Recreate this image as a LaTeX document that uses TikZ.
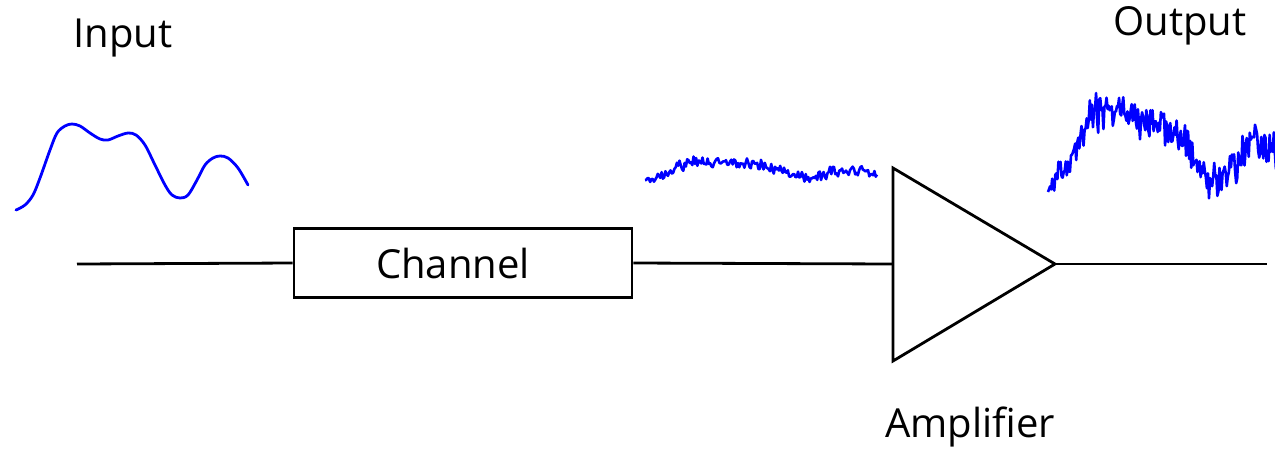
\documentclass[tikz,border=0pt]{standalone}
\usepackage{fontspec}
\setmainfont{Open Sans}
\definecolor{wave}{RGB}{0,0,255}
\begin{document}
\begin{tikzpicture}[x=1pt,y=-1pt,
  wire/.style={line width=2.8pt,black},
  lbl/.style={font=\fontsize{40}{46}\selectfont,inner sep=0pt},
  sig/.style={wave,line width=2.8pt,line join=round,line cap=round},
  noisy/.style={wave,line width=2.6pt,line join=round}]
\useasboundingbox (0,0) rectangle (1275,451);
\pgfmathsetseed{11}
% labels
\node[lbl] (in) at (123,38) {Input};
\node[lbl] (out) at (1180,26) {Output};
\node[lbl] (amplbl) at (970,427) {Amplifier};
% chain
\coordinate (src) at (77,264);
\node[draw,line width=2.8pt,minimum width=338pt,minimum height=69pt,inner sep=0pt,
      font=\fontsize{40}{46}\selectfont] (chan) at (463,263) {Channel\hspace*{20pt}};
\coordinate (ampin) at (893,264);
\coordinate (amptop) at (893,168);
\coordinate (ampbot) at (893,361);
\coordinate (ampout) at (1055,264);
\coordinate (sink) at (1267,264);
\draw[wire] (src) -- (chan.west);
\draw[wire] (chan.east) -- (ampin);
\draw[wire,line join=miter] (amptop) -- (ampout) -- (ampbot) -- cycle;
\draw[wire] (ampout) -- (sink);
% input signal
\draw[sig] plot[smooth,tension=0.55] coordinates {(16,210) (25,205) (33,195) (40,178) (50,150) (57,133) (65,126) (72,124) (80,126) (90,133) (100,139) (108,140) (118,136) (128,133) (136,135) (145,145) (155,165) (165,185) (172,195) (180,198) (188,195) (197,180) (205,165) (213,158) (220,156) (228,158) (238,168) (248,185)};
% noisy channel output
\draw[noisy] (645,180)
  \foreach \xa/\ya/\xb/\yb in {645/180/668/172, 668/172/691/161, 691/161/714/162, 714/162/738/163, 738/163/761/165, 761/165/784/172, 784/172/807/180, 807/180/830/172, 830/172/854/170, 854/170/877/176} {
    \foreach \k in {1,...,18} { -- ({\xa+(\xb-\xa)*\k/18},{\ya+(\yb-\ya)*\k/18+3.6*(rand+rand)}) }
  };
% amplified output
\draw[noisy] (1048,192)
  \foreach \xa/\ya/\xb/\yb in {1048/192/1071/160, 1071/160/1094/112, 1094/112/1117/110, 1117/110/1140/120, 1140/120/1163/122, 1163/122/1186/148, 1186/148/1209/180, 1209/180/1232/170, 1232/170/1255/135, 1255/135/1278/152} {
    \foreach \k in {1,...,22} { -- ({\xa+(\xb-\xa)*\k/22},{\ya+(\yb-\ya)*\k/22+11.5*(rand+rand)}) }
  };
\end{tikzpicture}
\end{document}
